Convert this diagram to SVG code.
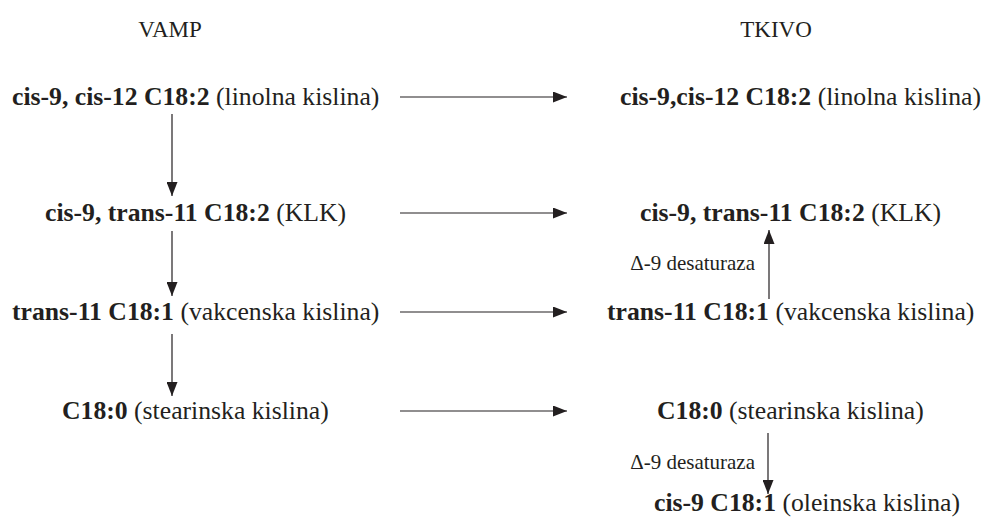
<svg xmlns="http://www.w3.org/2000/svg" width="987" height="522" viewBox="0 0 987 522">
<style>
text{font-family:'Liberation Serif','Times New Roman',Tinos,'DejaVu Serif',serif;fill:#231f20}
.t{font-size:25.7px}
.h{font-size:23px;text-anchor:middle}
.l{font-size:21px;text-anchor:end}
.b{font-weight:bold}
.c line{stroke:#231f20;stroke-width:1.2;marker-end:url(#ah)}
</style>
<defs>
<marker id="ah" viewBox="0 0 14 11" refX="14" refY="5.5" markerWidth="14" markerHeight="11" markerUnits="userSpaceOnUse" orient="auto">
<path d="M0,0 L14,5.5 L0,11 z" fill="#231f20"/>
</marker>
</defs>
<rect width="987" height="522" fill="#fff"/>
<g font-family="Liberation Serif, Times New Roman, serif">
<g id="hdr-vamp"><text class="h" x="170" y="37">VAMP</text></g>
<g id="hdr-tkivo"><text class="h" x="776" y="37">TKIVO</text></g>
<g id="v1"><text class="t" x="12" y="105"><tspan class="b">cis-9, cis-12 C18:2</tspan> (linolna kislina)</text></g>
<g id="v2"><text class="t" x="45" y="221"><tspan class="b">cis-9, trans-11 C18:2</tspan> (KLK)</text></g>
<g id="v3"><text class="t" x="12" y="320"><tspan class="b">trans-11 C18:1</tspan> (vakcenska kislina)</text></g>
<g id="v4"><text class="t" x="62" y="419"><tspan class="b">C18:0</tspan> (stearinska kislina)</text></g>
<g id="t1"><text class="t" x="620" y="105"><tspan class="b">cis-9,cis-12 C18:2</tspan> (linolna kislina)</text></g>
<g id="t2"><text class="t" x="640" y="221"><tspan class="b">cis-9, trans-11 C18:2</tspan> (KLK)</text></g>
<g id="t3"><text class="t" x="607" y="320"><tspan class="b">trans-11 C18:1</tspan> (vakcenska kislina)</text></g>
<g id="t4"><text class="t" x="657" y="419"><tspan class="b">C18:0</tspan> (stearinska kislina)</text></g>
<g id="t5"><text class="t" x="654" y="511"><tspan class="b">cis-9 C18:1</tspan> (oleinska kislina)</text></g>
<g id="lbl1"><text class="l" x="755" y="270">Δ-9 desaturaza</text></g>
<g id="lbl2"><text class="l" x="755" y="469">Δ-9 desaturaza</text></g>
</g>
<g id="connectors" class="c">
<line x1="172" y1="114" x2="172" y2="196"/>
<line x1="172" y1="231" x2="172" y2="296"/>
<line x1="172" y1="334" x2="172" y2="396"/>
<line x1="400" y1="97" x2="567" y2="97"/>
<line x1="400" y1="213" x2="567" y2="213"/>
<line x1="400" y1="312" x2="567" y2="312"/>
<line x1="400" y1="411" x2="567" y2="411"/>
<line x1="769" y1="299" x2="769" y2="230"/>
<line x1="768" y1="433" x2="768" y2="494"/>
</g>
</svg>
